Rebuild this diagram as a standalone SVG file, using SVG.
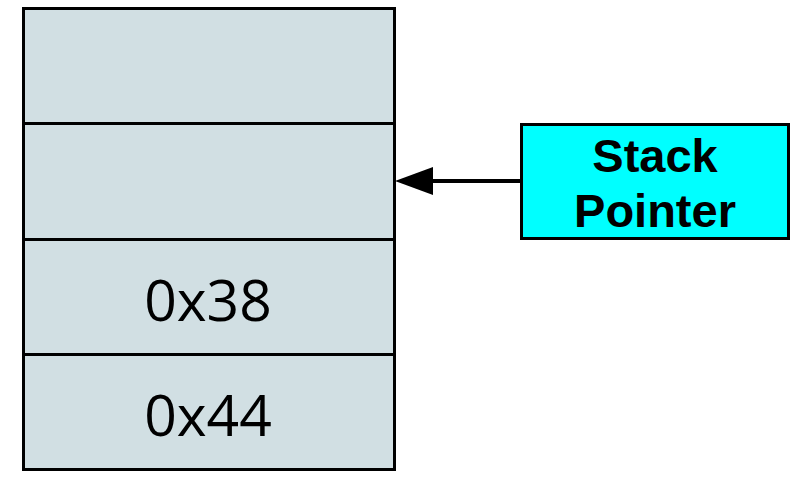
<svg xmlns="http://www.w3.org/2000/svg" width="794" height="477" viewBox="0 0 794 477">
<style>
.cell{fill:#d1dfe3;stroke:#000;stroke-width:3}
.val{font-family:"Open Sans",sans-serif;font-size:57px;fill:#000;text-anchor:middle}
.sp{fill:#00ffff;stroke:#000;stroke-width:3}
.spt{font-family:"Liberation Sans",Arial,sans-serif;font-weight:bold;font-size:47px;fill:#000;text-anchor:middle}
.conn{stroke:#000;stroke-width:4;fill:none}
</style>
<g id="cell1"><rect class="cell" x="23.5" y="8.5" width="371" height="115"/></g>
<g id="cell2"><rect class="cell" x="23.5" y="123.5" width="371" height="116"/></g>
<g id="cell3"><rect class="cell" x="23.5" y="239.5" width="371" height="115"/><text class="val" x="208" y="321">0x38</text></g>
<g id="cell4"><rect class="cell" x="23.5" y="354.5" width="371" height="115"/><text class="val" x="208" y="436">0x44</text></g>
<g id="stack-pointer"><rect class="sp" x="521.5" y="124.5" width="267" height="114"/><text class="spt" x="655" y="172">Stack</text><text class="spt" x="655" y="227">Pointer</text></g>
<g id="connectors">
<line class="conn" x1="521" y1="181" x2="433" y2="181"/>
<path d="M395,181 L433,167 L433,195 Z" fill="#000"/>
</g>
</svg>
